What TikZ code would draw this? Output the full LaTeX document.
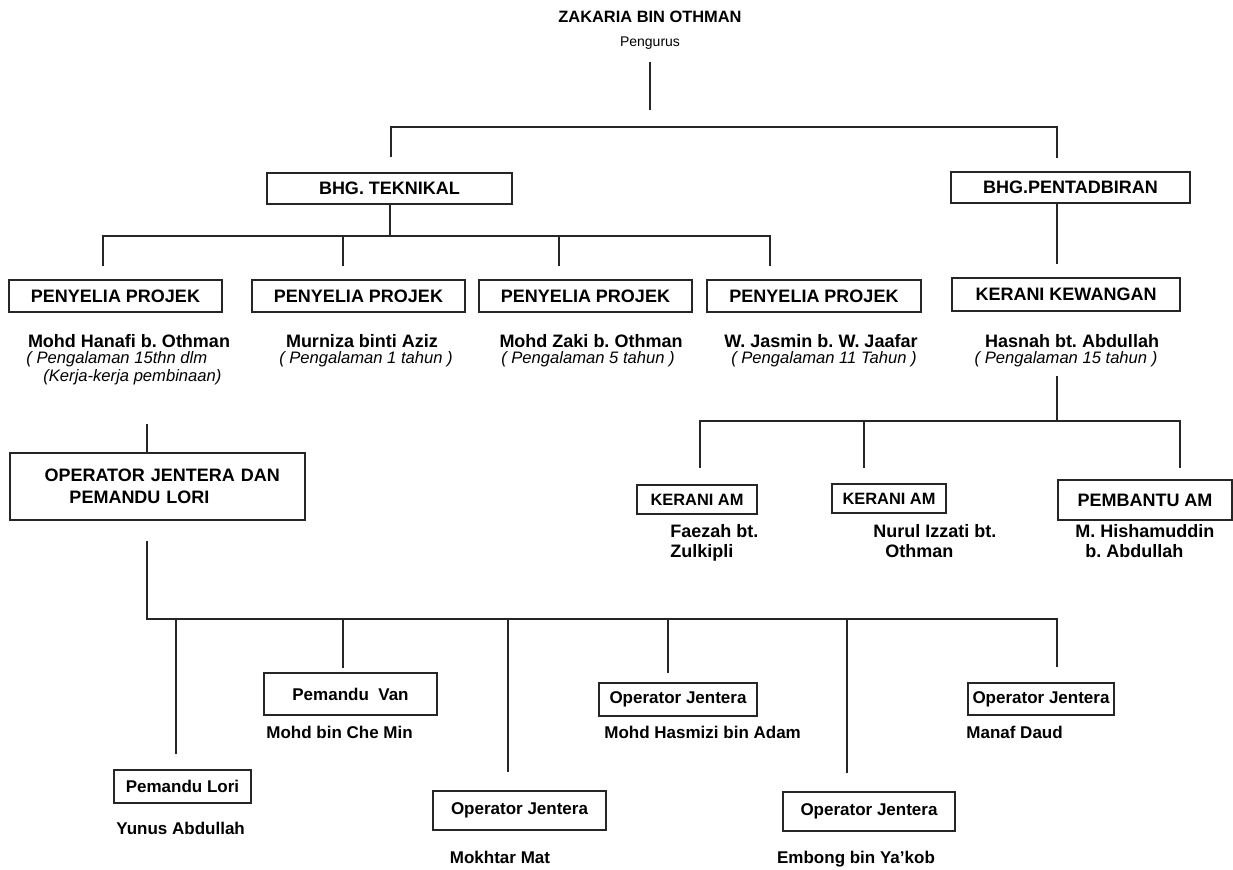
\documentclass[tikz,border=0pt]{standalone}
\usepackage{fontspec}
\setmainfont{Liberation Sans}
\usetikzlibrary{positioning,calc}
\frenchspacing
\tikzset{post/.style={draw=black!85,line width=1.1pt,inner sep=0pt,align=center,font=\bfseries\fontsize{9}{11}\selectfont}  }
\tikzset{smallpost/.style={post,font=\bfseries\fontsize{8.5}{10}\selectfont}  }
\tikzset{staff/.style={inner sep=0pt,anchor=base,font=\bfseries\fontsize{9}{11}\selectfont}  }
\tikzset{worker/.style={inner sep=0pt,anchor=base west,font=\bfseries\fontsize{8.5}{10}\selectfont}  }
\tikzset{note/.style={inner sep=0pt,anchor=base,font=\itshape\fontsize{8.3}{10}\selectfont}  }
\tikzset{wire/.style={draw=black!85,line width=1pt}  }

\begin{document}
\begin{tikzpicture}[x=0.5pt,y=-0.5pt]
	\useasboundingbox (0,0) rectangle (1233,870);
	% pengurus
	\node[staff,font=\bfseries\fontsize{8.2}{10}\selectfont] (boss) at (650,23) {ZAKARIA BIN OTHMAN};
	\node[staff,font=\fontsize{7}{9}\selectfont] (pengurus) at (650,47) {Pengurus};
		\coordinate (z0) at (650,62);
		\coordinate (z1) at (650,110);
		\coordinate (s0l) at (391,127);
		\coordinate (s0r) at (1057,127);
		\coordinate (t1) at (391,157);
		\coordinate (t2) at (1057,158);
	\draw[wire] (z0) -- (z1);
	\draw[wire] (t1) -- (s0l) -- (s0r) -- (t2);

	% bahagian
	\node[post,minimum width=122.5pt,minimum height=15.5pt] (teknikal) at (389.5,188.5) {BHG. TEKNIKAL};
	\node[post,minimum width=119.5pt,minimum height=15.5pt] (pentadbiran) at (1070.5,187.5) {BHG.PENTADBIRAN};

	% penyelia projek
		\coordinate (s1l) at (103,236);
		\coordinate (s1r) at (770,236);
		\coordinate (d1) at (103,266);
		\coordinate (d2) at (343,266);
		\coordinate (d3) at (559,266);
		\coordinate (d4) at (770,266);
		\coordinate (k1) at (1057,264);
	\draw[wire] (teknikal.south) -- (teknikal.south |- s1l);
	\draw[wire] (d1) -- (s1l) -- (s1r) -- (d4);
	\draw[wire] (d2) -- (d2 |- s1l);
	\draw[wire] (d3) -- (d3 |- s1l);
	\draw[wire] (pentadbiran.south -| k1) -- (k1);

	\node[post,minimum width=106.5pt,minimum height=16pt] (pp1) at (115.5,296) {PENYELIA PROJEK};
	\node[post,minimum width=106.5pt,minimum height=16pt] (pp2) at (358.5,296) {PENYELIA PROJEK};
	\node[post,minimum width=106.5pt,minimum height=16pt] (pp3) at (585.5,296) {PENYELIA PROJEK};
	\node[post,minimum width=107pt,minimum height=16pt] (pp4) at (814,296) {PENYELIA PROJEK};
	\node[post,minimum width=114pt,minimum height=16.5pt] (kewangan) at (1066,294.5) {KERANI KEWANGAN};

	\node[staff] (hanafi) at (129,348) {Mohd Hanafi b. Othman};
	\node[note,anchor=base west] (hanafi1) at (26,364) {( Pengalaman 15thn dlm};
	\node[note,anchor=base west] (hanafi2) at (43,382) {(Kerja-kerja pembinaan)};
	\node[staff] (murniza) at (362,348) {Murniza binti Aziz};
	\node[note] (murniza1) at (366,364) {( Pengalaman 1 tahun )};
	\node[staff] (zaki) at (591,348) {Mohd Zaki b. Othman};
	\node[note] (zaki1) at (588,364) {( Pengalaman 5 tahun )};
	\node[staff] (jasmin) at (821,348) {W. Jasmin b. W. Jaafar};
	\node[note] (jasmin1) at (824,364) {( Pengalaman 11 Tahun )};
	\node[staff] (hasnah) at (1072,348) {Hasnah bt. Abdullah};
	\node[note] (hasnah1) at (1066,364) {( Pengalaman 15 tahun )};

	% kerani
		\coordinate (k0) at (1057,376);
		\coordinate (s2l) at (700,421);
		\coordinate (s2r) at (1180,421);
		\coordinate (d5) at (700,468);
		\coordinate (d6) at (864,468);
		\coordinate (d7) at (1180,468);
	\draw[wire] (k0) -- (k0 |- s2l);
	\draw[wire] (d5) -- (s2l) -- (s2r) -- (d7);
	\draw[wire] (d6) -- (d6 |- s2l);

	\node[post,font=\bfseries\fontsize{8.2}{10}\selectfont,minimum width=60pt,minimum height=14.5pt] (kerani1) at (697,499.5) {KERANI AM};
	\node[post,font=\bfseries\fontsize{8.2}{10}\selectfont,minimum width=57pt,minimum height=14.5pt] (kerani2) at (889,498.5) {KERANI AM};
	\node[post,minimum width=87pt,minimum height=20pt] (pembantu) at (1145,500) {PEMBANTU AM};

	\node[staff,anchor=base west] (faezah) at (670,538) {Faezah bt.};
	\node[staff,anchor=base west] (faezah2) at (670,558) {Zulkipli};
	\node[staff,anchor=base west] (nurul) at (873,538) {Nurul Izzati bt.};
	\node[staff,anchor=base west] (nurul2) at (885,558) {Othman};
	\node[staff,anchor=base west] (hisham) at (1075,538) {M. Hishamuddin};
	\node[staff,anchor=base west] (hisham2) at (1085,558) {b. Abdullah};

	% operator jentera dan pemandu lori
		\coordinate (o0) at (147,424);
		\coordinate (o1) at (147,541);
		\coordinate (s3l) at (147,619);
		\coordinate (s3r) at (1057,619);
		\coordinate (e1) at (176,754);
		\coordinate (e2) at (343,668);
		\coordinate (e3) at (508,772);
		\coordinate (e4) at (668,673);
		\coordinate (e5) at (847,773);
		\coordinate (e6) at (1057,667);
	\node[post,align=left,minimum width=147.5pt,minimum height=33.5pt,text width=126pt] (ops) at (157.5,486.5) {\hspace*{6.5pt}OPERATOR JENTERA DAN\\\hspace*{19pt}PEMANDU LORI};
	\draw[wire] (o0) -- (o0 |- ops.north);
	\draw[wire] (o1) -- (s3l) -- (s3r) -- (e6);
	\draw[wire] (e1) -- (e1 |- s3l);
	\draw[wire] (e2) -- (e2 |- s3l);
	\draw[wire] (e3) -- (e3 |- s3l);
	\draw[wire] (e4) -- (e4 |- s3l);
	\draw[wire] (e5) -- (e5 |- s3l);

	\node[smallpost,minimum width=68.5pt,minimum height=16.5pt] (lori) at (182.5,786.5) {Pemandu Lori};
	\node[smallpost,minimum width=86.5pt,minimum height=21pt] (van) at (350.5,694) {Pemandu\ \ Van};
	\node[smallpost,minimum width=86.5pt,minimum height=19.5pt] (jentera1) at (519.5,810.5) {Operator Jentera};
	\node[smallpost,minimum width=79pt,minimum height=16.5pt] (jentera2) at (678,699.5) {Operator Jentera};
	\node[smallpost,minimum width=86pt,minimum height=19.5pt] (jentera3) at (869,811.5) {Operator Jentera};
	\node[smallpost,minimum width=73pt,minimum height=16pt] (jentera4) at (1041,699) {Operator Jentera};

	\node[worker] (yunus) at (116,835) {Yunus Abdullah};
	\node[worker] (mohd) at (266,739) {Mohd bin Che Min};
	\node[worker,anchor=base] (mokhtar) at (500,864) {Mokhtar Mat};
	\node[worker] (hasmizi) at (604,739) {Mohd Hasmizi bin Adam};
	\node[worker,anchor=base] (embong) at (856,864) {Embong bin Ya'kob};
	\node[worker] (manaf) at (966,739) {Manaf Daud};
\end{tikzpicture}
\end{document}
